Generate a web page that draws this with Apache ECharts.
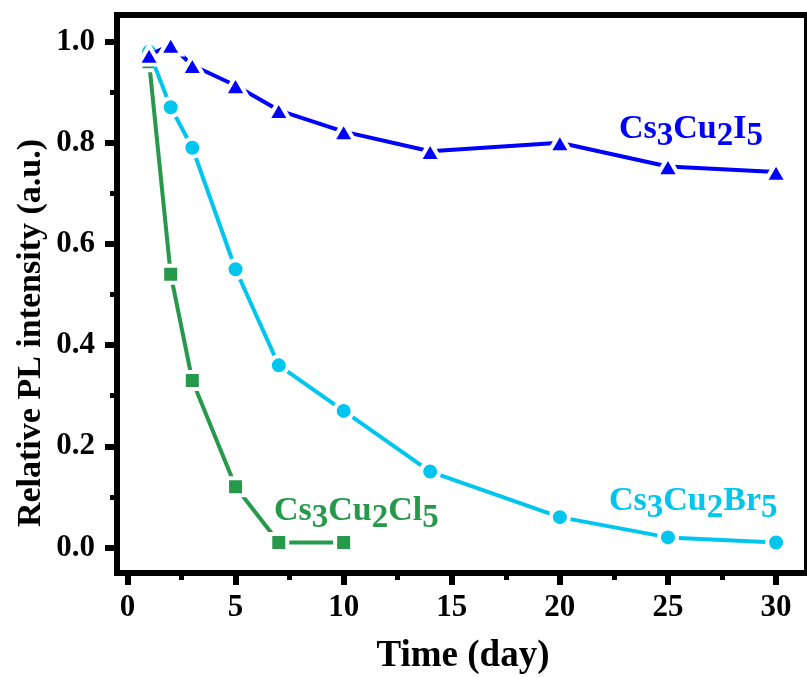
<!DOCTYPE html>
<html><head><meta charset="utf-8">
<script src="https://cdn.jsdelivr.net/npm/echarts@6/dist/echarts.min.js"></script>
<style>html,body{margin:0;padding:0;background:#fff}#c{width:807px;height:677px}</style>
</head><body><div id="c"></div>
<script>
// ---- data ----
const days = [1, 2, 3, 5, 7, 10, 14, 20, 25, 30];
const iValues = [0.973, 0.993, 0.953, 0.913, 0.864, 0.822, 0.783, 0.800, 0.753, 0.742];
const brValues = [0.980, 0.870, 0.790, 0.550, 0.360, 0.270, 0.150, 0.060, 0.020, 0.010];
const clDays = [1, 2, 3, 5, 7, 10];
const clValues = [0.960, 0.540, 0.330, 0.120, 0.010, 0.010];
const xMajorTicks = [0, 5, 10, 15, 20, 25, 30];
const xMinorTicks = [2.5, 7.5, 12.5, 17.5, 22.5, 27.5];
const yMajorTicks = [0, 0.2, 0.4, 0.6, 0.8, 1.0];
const yMinorTicks = [0.1, 0.3, 0.5, 0.7, 0.9];
const xTitle = 'Time (day)';
const yTitle = 'Relative PL intensity (a.u.)';

const FONT = '"Liberation Serif", "Times New Roman", serif';
const C_I = '#0000FF', C_BR = '#00C6EE', C_CL = '#27994A';

const chart = echarts.init(document.getElementById('c'), null, {renderer: 'canvas'});
const pairs = (xs, ys) => xs.map((x, i) => [x, ys[i]]);

function xAx(ticks, len, width, labels) {
  return {
    type: 'value', gridIndex: 0, position: 'bottom', min: -0.483, max: 31.43,
    axisLine: {show: false, onZero: false},
    splitLine: {show: false},
    axisTick: {show: true, customValues: ticks, length: len, lineStyle: {color: '#000', width: width}},
    axisLabel: labels ? {show: true, customValues: ticks, margin: 19, color: '#000', fontSize: 31,
      fontWeight: 'bold', fontFamily: FONT, formatter: v => String(v)} : {show: false}
  };
}
function yAx(ticks, len, width, labels) {
  return {
    type: 'value', gridIndex: 0, position: 'left', min: -0.0504, max: 1.0524,
    axisLine: {show: false, onZero: false},
    splitLine: {show: false},
    axisTick: {show: true, customValues: ticks, length: len, lineStyle: {color: '#000', width: width}},
    axisLabel: labels ? {show: true, customValues: ticks, margin: 22, color: '#000', fontSize: 31,
      fontWeight: 'bold', fontFamily: FONT, formatter: v => v.toFixed(1)} : {show: false}
  };
}

function formula(txt, color, x, y) {
  const rich = {
    n: {fontSize: 34, fontWeight: 'bold', fontFamily: FONT, fill: color},
    d: {fontSize: 33, fontWeight: 'bold', fontFamily: FONT, fill: color, padding: [14, 0, 0, 0]}
  };
  return {type: 'text', left: x, top: y, z: 100,
    style: {text: txt, rich: rich, fill: color, font: 'bold 34px ' + FONT}};
}

chart.setOption({
  animation: false,
  backgroundColor: '#fff',
  grid: {show: true, left: 117, right: -4, top: 15, bottom: 104, borderColor: '#000', borderWidth: 6,
    backgroundColor: 'transparent', containLabel: false},
  xAxis: [xAx(xMajorTicks, 12, 6, true), xAx(xMinorTicks, 7, 5, false)],
  yAxis: [yAx(yMajorTicks, 12, 6, true), yAx(yMinorTicks, 7, 5, false)],
  series: [
    {type: 'line', name: 'Cs3Cu2Cl5', xAxisIndex: 0, yAxisIndex: 0, data: pairs(clDays, clValues),
      symbol: 'rect', symbolSize: 17, lineStyle: {color: C_CL, width: 4},
      itemStyle: {color: C_CL, borderColor: '#fff', borderWidth: 4}, z: 2},
    {type: 'line', name: 'Cs3Cu2Br5', xAxisIndex: 0, yAxisIndex: 0, data: pairs(days, brValues),
      symbol: 'circle', symbolSize: 18, lineStyle: {color: C_BR, width: 4},
      itemStyle: {color: C_BR, borderColor: '#fff', borderWidth: 4}, z: 3},
    {type: 'line', name: 'Cs3Cu2I5', xAxisIndex: 0, yAxisIndex: 0, data: pairs(days, iValues),
      symbol: 'triangle', symbolSize: [22, 19], lineStyle: {color: C_I, width: 4},
      itemStyle: {color: C_I, borderColor: '#fff', borderWidth: 4}, z: 4}
  ],
  graphic: [
    formula('{n|Cs}{d|3}{n|Cu}{d|2}{n|I}{d|5}', C_I, 619, 112),
    formula('{n|Cs}{d|3}{n|Cu}{d|2}{n|Br}{d|5}', C_BR, 609, 484),
    formula('{n|Cs}{d|3}{n|Cu}{d|2}{n|Cl}{d|5}', C_CL, 274, 494),
    {type: 'text', x: 463, y: 656, z: 100,
      style: {text: xTitle, fill: '#000', font: 'bold 37px ' + FONT, align: 'center', verticalAlign: 'middle'}},
    {type: 'text', x: 31, y: 333, rotation: Math.PI / 2, z: 100,
      style: {text: yTitle, fill: '#000', font: 'bold 34px ' + FONT, align: 'center', verticalAlign: 'middle'}}
  ]
});
</script></body></html>
